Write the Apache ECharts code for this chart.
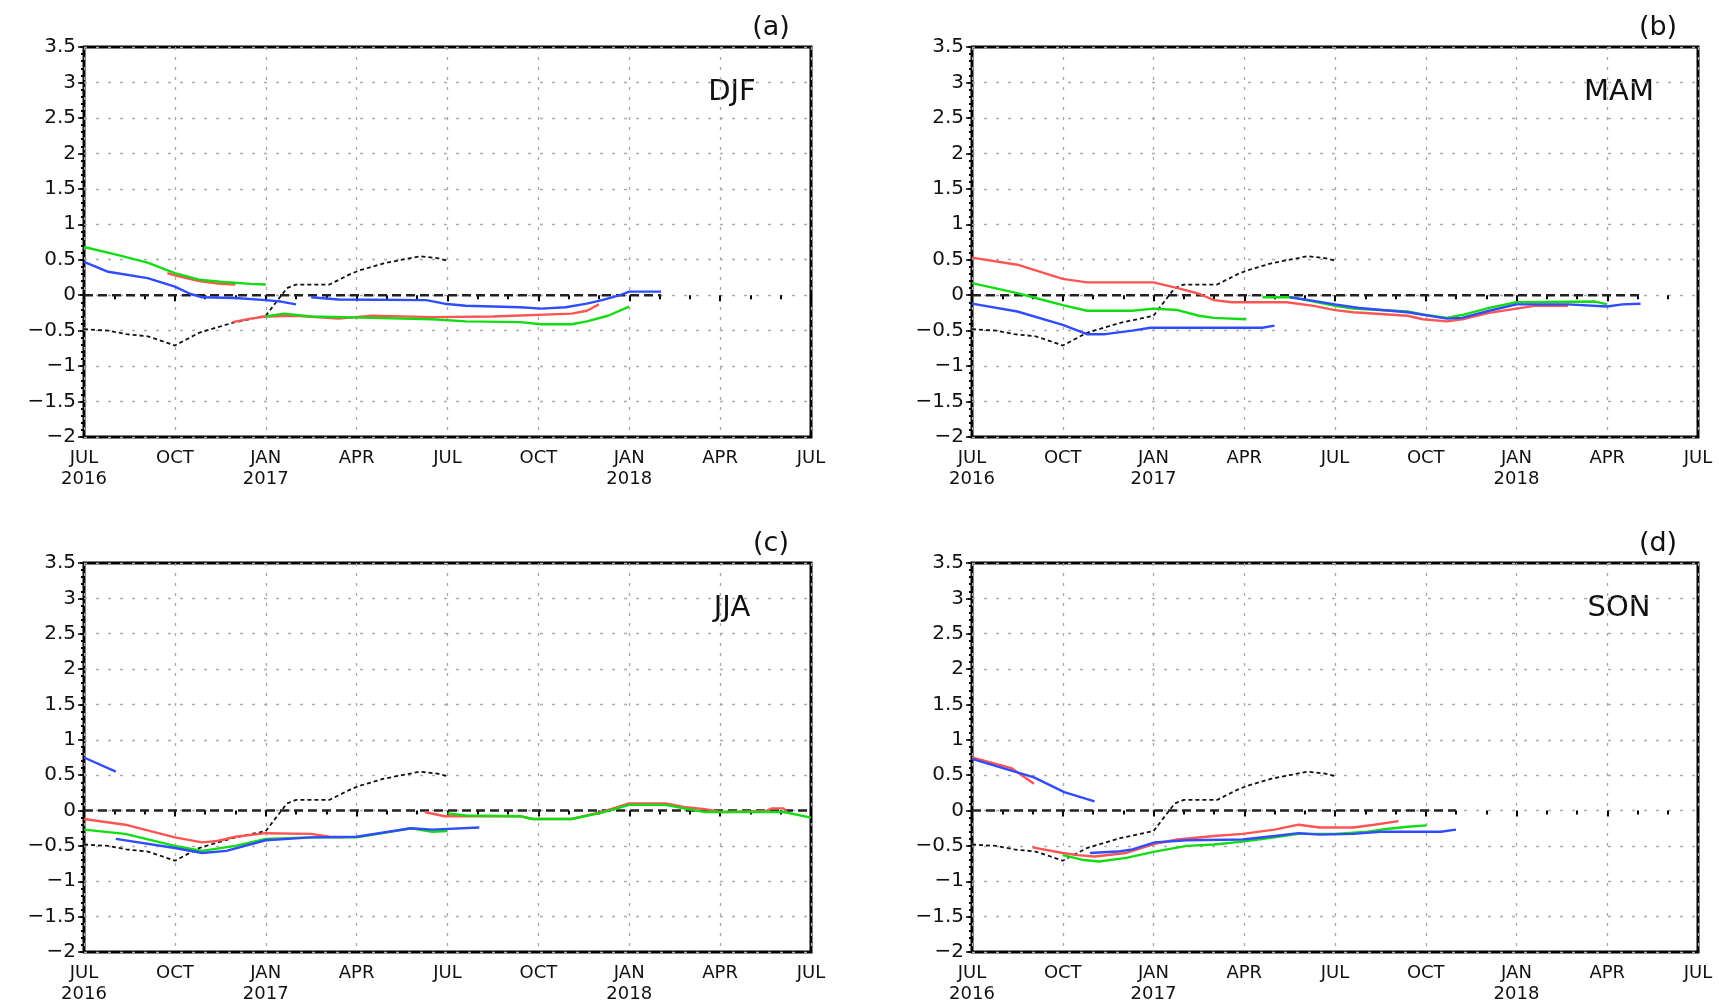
<!DOCTYPE html>
<html>
<head>
<meta charset="utf-8">
<script src="https://cdn.jsdelivr.net/npm/echarts@6/dist/echarts.min.js"></script>
<style>
html,body{margin:0;padding:0;background:#fff;}
#c{width:1719px;height:1005px;}
</style>
</head>
<body>
<div id="c"></div>
<script>
// x values are months since JUL 2016 (0) .. JUL 2018 (24)
var tickLabels = ['JUL\n2016','OCT','JAN\n2017','APR','JUL','OCT','JAN\n2018','APR','JUL'];
var panelTags = ['(a)','(b)','(c)','(d)'];
var seasons = ['DJF','MAM','JJA','SON'];

// observed (black dotted), same in all panels
var obs = [[0,-0.48],[0.8,-0.5],[1.4,-0.55],[2.1,-0.58],[2.6,-0.65],[3,-0.71],[3.8,-0.53],[4.9,-0.39],[6,-0.29],[6.7,0.1],[7,0.15],[8.1,0.15],[8.8,0.3],[9.1,0.35],[9.9,0.45],[10.5,0.5],[11.1,0.55],[11.7,0.52],[12.05,0.48]];

// (a) DJF
var aRed1 = [[2.75,0.31],[3,0.28],[3.8,0.2],[4.5,0.16],[5,0.15]];
var aRed2 = [[4.9,-0.38],[5.5,-0.33],[6,-0.3],[7,-0.29],[8.4,-0.33],[9.5,-0.29],[11.5,-0.31],[13.5,-0.3],[16.1,-0.26],[16.6,-0.22],[17,-0.13]];
var aGreen1 = [[0,0.68],[1,0.58],[2.1,0.46],[3,0.31],[3.8,0.22],[4.5,0.19],[5.5,0.16],[6,0.15]];
var aGreen2 = [[6,-0.3],[6.6,-0.26],[7.5,-0.3],[9.5,-0.32],[11.5,-0.34],[12.6,-0.37],[14.4,-0.38],[15.1,-0.41],[16.1,-0.41],[16.6,-0.37],[17.3,-0.29],[18,-0.16]];
var aBlue1 = [[0,0.47],[0.8,0.33],[2.1,0.24],[3,0.12],[3.5,0.02],[3.9,-0.03],[5,-0.04],[6,-0.07],[6.5,-0.09],[7,-0.13]];
var aBlue2 = [[7.5,-0.03],[8.4,-0.06],[11.3,-0.07],[11.9,-0.12],[12.6,-0.15],[14.4,-0.17],[15.1,-0.19],[15.9,-0.17],[16.6,-0.12],[17.1,-0.07],[17.7,0],[18,0.05],[19.05,0.05]];

// (b) MAM
var bRed1 = [[0,0.53],[1.5,0.43],[3,0.23],[3.8,0.18],[6,0.18],[6.8,0.1],[7.5,0.02],[8,-0.07],[8.6,-0.1],[10.4,-0.1],[11.3,-0.15],[12,-0.21],[12.6,-0.24],[14.4,-0.29],[14.9,-0.34],[15.7,-0.37],[16.2,-0.34],[17.1,-0.25],[18,-0.19],[18.6,-0.15],[19.7,-0.15]];
var bGreen1 = [[0,0.17],[1.5,0.03],[2.2,-0.05],[3,-0.14],[3.8,-0.22],[5.3,-0.22],[6,-0.19],[6.8,-0.21],[7.5,-0.29],[8,-0.32],[9.07,-0.34]];
var bGreen2 = [[9.6,-0.03],[10.6,-0.03],[11.3,-0.09],[12,-0.15],[12.6,-0.19],[14.4,-0.23],[14.9,-0.27],[15.7,-0.32],[16.2,-0.28],[17.1,-0.18],[18,-0.1],[20.6,-0.09],[21,-0.13]];
var bBlue1 = [[0,-0.12],[1.5,-0.23],[3,-0.42],[3.8,-0.55],[4.4,-0.55],[5.3,-0.5],[5.9,-0.46],[8.9,-0.46],[9.6,-0.46],[10,-0.43]];
var bBlue2 = [[10.5,-0.03],[11.3,-0.08],[12,-0.13],[12.8,-0.18],[14.4,-0.24],[15.7,-0.33],[16.2,-0.32],[17.1,-0.22],[18,-0.13],[19.7,-0.13],[21,-0.16],[21.5,-0.13],[22.1,-0.12]];

// (c) JJA
var cRed1 = [[0,-0.12],[1.36,-0.2],[3,-0.38],[3.9,-0.45],[4.4,-0.43],[5,-0.37],[6,-0.32],[7.5,-0.33],[8.1,-0.37],[8.6,-0.38]];
var cRed2 = [[11.25,-0.02],[11.9,-0.08],[14.4,-0.08],[14.8,-0.12],[16.1,-0.12],[17.1,-0.02],[18,0.1],[19.2,0.1],[19.8,0.05],[20.5,0.02],[21,-0.02],[22.5,-0.01],[22.7,0.03],[23.1,0.03],[23.2,-0.02]];
var cGreen1 = [[0,-0.27],[1.36,-0.33],[3,-0.5],[3.9,-0.57],[5,-0.5],[6,-0.4],[7.5,-0.38],[9,-0.38],[10.8,-0.25],[11.5,-0.3],[12,-0.29]];
var cGreen2 = [[12,-0.04],[12.6,-0.07],[14.4,-0.08],[14.8,-0.12],[16.1,-0.12],[17.1,-0.03],[18,0.08],[19.2,0.08],[19.8,0.03],[20.5,-0.02],[23.1,-0.02],[24,-0.1]];
var cBlue1 = [[0,0.75],[1.05,0.55]];
var cBlue2 = [[1.05,-0.4],[3,-0.53],[3.9,-0.6],[4.7,-0.57],[6,-0.42],[7.5,-0.38],[9,-0.37],[10.8,-0.25],[11.5,-0.27],[13.05,-0.24]];

// (d) SON
var dRed1 = [[0,0.75],[1.3,0.6],[2.05,0.38]];
var dRed2 = [[2,-0.52],[3,-0.6],[3.5,-0.63],[4.05,-0.65],[5.1,-0.6],[6.04,-0.47],[6.8,-0.41],[8,-0.36],[8.95,-0.33],[10,-0.27],[10.8,-0.2],[11.5,-0.24],[12.6,-0.24],[13.3,-0.2],[14.1,-0.15]];
var dGreen1 = [[3,-0.63],[3.7,-0.7],[4.2,-0.72],[5.1,-0.67],[6.04,-0.58],[7.1,-0.5],[8,-0.48],[8.95,-0.44],[10,-0.38],[10.8,-0.33],[12,-0.33],[13.1,-0.3],[13.7,-0.26],[14.4,-0.23],[15.03,-0.21]];
var dBlue1 = [[0,0.73],[2.05,0.47],[3.05,0.26],[4.05,0.13]];
var dBlue2 = [[3.9,-0.6],[4.8,-0.58],[5.3,-0.55],[6.04,-0.45],[7.1,-0.42],[8.95,-0.41],[10,-0.36],[10.8,-0.32],[11.5,-0.34],[12.6,-0.33],[13.5,-0.3],[15.5,-0.3],[16,-0.27]];

// extent of zero reference line per panel (months)
var zeroEnds = [19.05, 22.2, 24, 16];

var panelRed = [[aRed1,aRed2],[bRed1],[cRed1,cRed2],[dRed1,dRed2]];
var panelGreen = [[aGreen1,aGreen2],[bGreen1,bGreen2],[cGreen1,cGreen2],[dGreen1]];
var panelBlue = [[aBlue1,aBlue2],[bBlue1,bBlue2],[cBlue1,cBlue2],[dBlue1,dBlue2]];

var RED = '#ff5454', GREEN = '#12dc12', BLUE = '#2f4cff';
var FONT = '"DejaVu Sans", "Liberation Sans", sans-serif';

var grids = [
  {left:84, top:47, width:727, height:390},
  {left:972, top:47, width:726, height:390},
  {left:84, top:563, width:727, height:390},
  {left:972, top:563, width:726, height:390}
];

var chart = echarts.init(document.getElementById('c'), null, {renderer:'canvas'});
var xAxes = [], yAxes = [], series = [], graphics = [];

grids.forEach(function(g, i){
  g.show = true; g.borderColor = '#000'; g.borderWidth = 3; g.backgroundColor = '#fff';
  xAxes.push({
    type:'value', gridIndex:i, min:0, max:24, interval:3, position:'bottom',
    axisLine:{show:false},
    axisTick:{show:true, inside:false, length:6, lineStyle:{color:'#000', width:2}},
    minorTick:{show:true, splitNumber:3, length:4, lineStyle:{color:'#000', width:2}},
    axisLabel:{color:'#111', fontFamily:FONT, fontSize:18, lineHeight:21, margin:11,
      formatter:function(v){ return tickLabels[Math.round(v/3)]; }},
    splitLine:{show:true, lineStyle:{color:'#a8a8a8', width:1.3, type:[3,7]}}
  });
  xAxes.push({
    type:'value', gridIndex:i, min:0, max:24, interval:3, position:'top',
    axisLine:{show:false},
    axisTick:{show:true, inside:true, length:4, lineStyle:{color:'#000', width:2}},
    minorTick:{show:true, splitNumber:3, length:4, lineStyle:{color:'#000', width:2}},
    axisLabel:{show:false}, splitLine:{show:false}
  });
  yAxes.push({
    type:'value', gridIndex:i, min:-2, max:3.5, interval:0.5, position:'left',
    axisLine:{show:false},
    axisTick:{show:true, inside:false, length:6, lineStyle:{color:'#000', width:1.5}},
    minorTick:{show:true, splitNumber:5, length:3, lineStyle:{color:'#000', width:2}},
    axisLabel:{color:'#111', fontFamily:FONT, fontSize:20, margin:8,
      formatter:function(v){ return v < 0 ? '\u2212' + Math.abs(v) : String(v); }},
    splitLine:{show:true, lineStyle:{color:'#acacac', width:1.4, type:[3,9]}}
  });
  yAxes.push({
    type:'value', gridIndex:i, min:-2, max:3.5, interval:0.5, position:'right',
    axisLine:{show:false},
    axisTick:{show:true, inside:true, length:4, lineStyle:{color:'#000', width:1.5}},
    minorTick:{show:true, splitNumber:5, length:3, lineStyle:{color:'#000', width:2}},
    axisLabel:{show:false}, splitLine:{show:false}
  });
  var xi = i*2, yi = i*2;
  function addLine(data, color, width, type, z){
    series.push({type:'line', xAxisIndex:xi, yAxisIndex:yi, data:data, showSymbol:false, symbol:'none',
      silent:true, animation:false, z:z,
      lineStyle:{color:color, width:width, type:type}});
  }
  addLine([[0,0],[zeroEnds[i],0]], '#222', 2.4, [9,5], 2);
  addLine(obs, '#111', 1.8, [4,3], 3);
  panelRed[i].forEach(function(d){ addLine(d, RED, 2.4, 'solid', 4); });
  panelGreen[i].forEach(function(d){ addLine(d, GREEN, 2.4, 'solid', 5); });
  panelBlue[i].forEach(function(d){ addLine(d, BLUE, 2.4, 'solid', 6); });

  graphics.push({type:'text', x:g.left + g.width - 40, y:g.top - 19,
    style:{text:panelTags[i], fontFamily:FONT, fontSize:27, fill:'#111', align:'center', verticalAlign:'middle'}});
  graphics.push({type:'text', x:g.left + g.width - 79, y:g.top + 45,
    style:{text:seasons[i], fontFamily:FONT, fontSize:29, fill:'#111', align:'center', verticalAlign:'middle'}});
});

chart.setOption({
  animation:false,
  backgroundColor:'#fff',
  grid:grids, xAxis:xAxes, yAxis:yAxes, series:series, graphic:graphics
});
</script>
</body>
</html>
